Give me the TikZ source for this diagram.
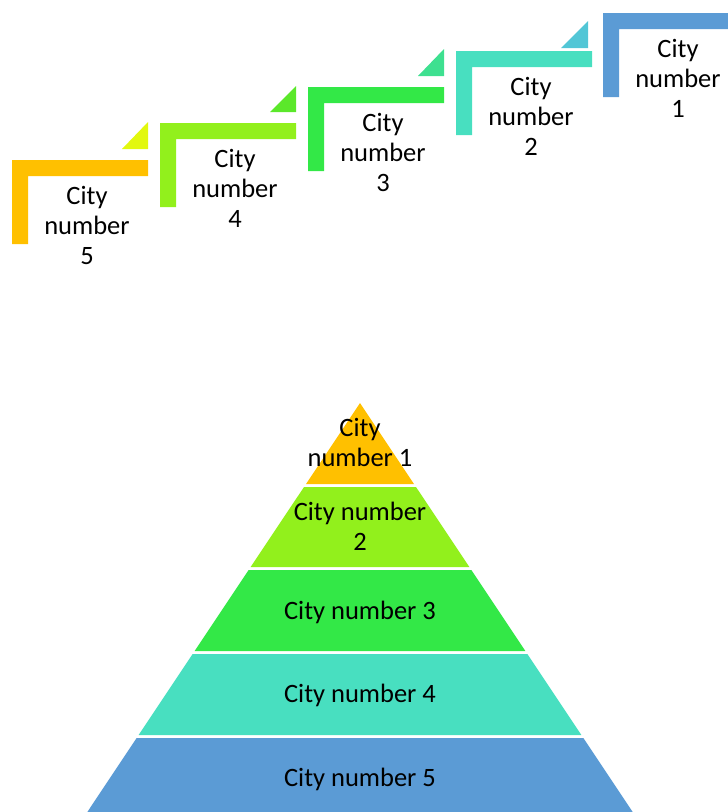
\documentclass[tikz,border=0pt]{standalone}
\usepackage{fontspec}
\setmainfont{Carlito}
\definecolor{cOrange}{HTML}{FFC000}
\definecolor{cLime}{HTML}{92F01C}
\definecolor{cGreen}{HTML}{33E847}
\definecolor{cTeal}{HTML}{48DFC0}
\definecolor{cBlue}{HTML}{5B9BD5}
\definecolor{tYellow}{HTML}{E2F80E}
\definecolor{tGreen}{HTML}{5BE82A}
\definecolor{tMint}{HTML}{3EE090}
\definecolor{tCyan}{HTML}{52C6D6}
\tikzset{
  lbl/.style={inner sep=0pt, align=center, font=\fontsize{26.5}{30}\selectfont, text=black},
}
\begin{document}
\begin{tikzpicture}[x=1pt,y=-1pt]
\useasboundingbox (0,0) rectangle (728,812);
\begin{scope}
\clip (0,0) rectangle (728,812);
% ---- L shapes (stairs) ----
\foreach \ox/\oy/\col/\n [count=\i] in {12/160/cOrange/5, 160/123/cLime/4, 308/87/cGreen/3, 456/51/cTeal/2, 603/13/cBlue/1}{
  \fill[\col] (\ox,\oy) -- (\ox+136,\oy) -- (\ox+136,\oy+16) -- (\ox+16,\oy+16) -- (\ox+16,\oy+84) -- (\ox,\oy+84) -- cycle;
  \node[lbl] (step\n) at (\ox+75,\oy+65.5) {City\\number\\\n};
}
% small triangles
\fill[tYellow] (122,149) -- (148,149) -- (148,122) -- cycle;
\fill[tGreen] (270,112) -- (296,112) -- (296,86) -- cycle;
\fill[tMint] (418,76) -- (444,76) -- (444,49) -- cycle;
\fill[tCyan] (561,48) -- (588,48) -- (588,21) -- cycle;
% ---- pyramid ----
\fill[cOrange] (360,403) -- (414,484) -- (306,484) -- cycle;
\fill[cLime] (304,487) -- (416,487) -- (469.4,567) -- (250.6,567) -- cycle;
\fill[cGreen] (248.6,570) -- (471.4,570) -- (525.4,651) -- (194.6,651) -- cycle;
\fill[cTeal] (192.6,654) -- (527.4,654) -- (581.4,735) -- (138.6,735) -- cycle;
\fill[cBlue] (136.6,738) -- (583.4,738) -- (636,817) -- (84,817) -- cycle;
\node[lbl] (p1) at (360,442) {City\\number 1};
\node[lbl] (p2) at (360,526) {City number\\2};
\node[lbl] (p3) at (360,612) {City number 3};
\node[lbl] (p4) at (360,695) {City number 4};
\node[lbl] (p5) at (360,779) {City number 5};
\end{scope}
\end{tikzpicture}
\end{document}
